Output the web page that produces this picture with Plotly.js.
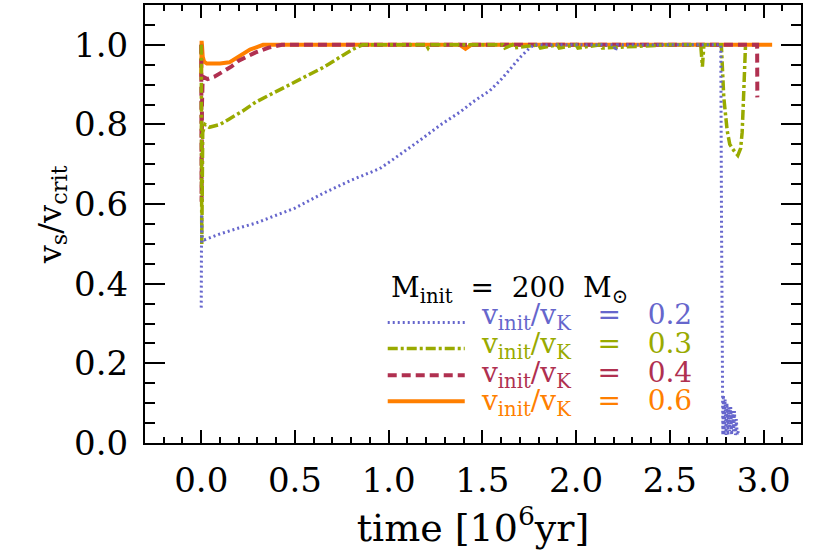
<!DOCTYPE html>
<html>
<head>
<meta charset="utf-8">
<script src="https://cdn.plot.ly/plotly-3.0.1.min.js"></script>
<style>
  body { margin: 0; background: #fff; }
  #plot { width: 830px; height: 554px; }
</style>
</head>
<body>
<div id="plot"></div>
<script>
// time in 10^6 yr, surface velocity / critical velocity

// v_init/v_K = 0.2
var t02 = [0, 0.002, 0.004, 0.016, 0.1, 0.2, 0.29, 0.4, 0.5, 0.65, 0.8, 0.952, 1.005, 1.166, 1.28, 1.38, 1.46, 1.54, 1.594, 1.65, 1.70, 1.754, 1.78, 2.0, 2.2, 2.21, 2.22, 2.5, 2.7, 2.772,
           2.776, 2.78, 2.783, 2.786, 2.79, 2.795, 2.80, 2.805, 2.81, 2.815, 2.82, 2.825, 2.83, 2.835, 2.84, 2.845, 2.85, 2.855, 2.86, 2.866];
var v02 = [0.34, 0.575, 0.52, 0.51, 0.525, 0.54, 0.552, 0.572, 0.59, 0.627, 0.66, 0.689, 0.706, 0.76, 0.80, 0.831, 0.86, 0.885, 0.91, 0.94, 0.968, 0.993, 1.0, 1.0, 1.0, 0.985, 1.0, 1.0, 1.0, 1.0,
           0.55, 0.14, 0.02, 0.12, 0.02, 0.11, 0.02, 0.10, 0.02, 0.09, 0.03, 0.09, 0.02, 0.08, 0.03, 0.08, 0.02, 0.06, 0.02, 0.03];

// v_init/v_K = 0.3
var t03 = [0, 0.003, 0.008, 0.02, 0.043, 0.1, 0.15, 0.22, 0.29, 0.38, 0.47, 0.56, 0.65, 0.73, 0.81, 0.86, 1.0, 1.2, 1.21, 1.22, 1.61, 1.62, 1.66, 1.67, 1.8, 1.81, 1.9, 1.91, 2.0, 2.01, 2.13, 2.14, 2.5, 2.665, 2.674, 2.682,
           2.775, 2.788, 2.806, 2.82, 2.841, 2.863, 2.878, 2.886, 2.892, 2.897, 2.904];
var v03 = [1.0, 0.5, 0.78, 0.80, 0.793, 0.80, 0.814, 0.833, 0.856, 0.878, 0.90, 0.921, 0.943, 0.966, 0.989, 1.0, 1.0, 1.0, 0.992, 1.0, 1.0, 0.992, 1.0, 0.992, 1.0, 0.992, 1.0, 0.992, 1.0, 0.992, 1.0, 0.992, 1.0, 1.0, 0.945, 1.0,
           1.0, 0.868, 0.785, 0.75, 0.735, 0.7225, 0.74, 0.78, 0.85, 0.95, 1.0];

// v_init/v_K = 0.4
var t04 = [0, 0.002, 0.004, 0.008, 0.02, 0.034, 0.07, 0.114, 0.16, 0.2, 0.25, 0.29, 0.36, 0.43, 1.0, 1.5, 2.0, 2.5, 2.966, 2.967];
var v04 = [1.0, 0.606, 0.85, 0.92, 0.916, 0.914, 0.92, 0.931, 0.945, 0.96, 0.972, 0.981, 0.993, 1.0, 1.0, 1.0, 1.0, 1.0, 1.0, 0.868];

// v_init/v_K = 0.6
var t06 = [0, 0.002, 0.004, 0.008, 0.015, 0.03, 0.07, 0.1, 0.15, 0.18, 0.22, 0.26, 0.29, 0.33, 0.5, 1.0, 1.38, 1.41, 1.44, 2.0, 2.5, 2.8, 3.0, 3.046];
var v06 = [0.92, 1.01, 1.0, 0.97, 0.958, 0.953, 0.952, 0.953, 0.956, 0.965, 0.977, 0.988, 0.993, 1.0, 1.0, 1.0, 1.0, 0.99, 1.0, 1.0, 1.0, 1.0, 1.0, 1.0];

var labels = ['0.2', '0.3', '0.4', '0.6'];
var colors = ['#6666cc', '#99aa00', '#b03050', '#ff7f00'];
var dashes = ['2px,3px', '10px,3px,3px,3px', '9px,5px', 'solid'];
var widths = [3, 3.5, 4, 4];
var times = [t02, t03, t04, t06];
var vals = [v02, v03, v04, v06];

var FONT = 'DejaVu Serif';

// draw order: 0.6, 0.4, 0.3, 0.2 (blue on top)
var order = [3, 2, 1, 0];
var data = order.map(function(i) {
  return {
    x: times[i], y: vals[i], type: 'scatter', mode: 'lines',
    line: {color: colors[i], width: widths[i], dash: dashes[i]},
    showlegend: false, hoverinfo: 'skip'
  };
});

// legend drawn IDL-style inside the plot
var legX0 = 0.995, legX1 = 1.406, legTx = 1.48;
var lineY = [0.3025, 0.2375, 0.17, 0.105];
var textY = [0.318, 0.245, 0.172, 0.102];
var sp = '&nbsp;&nbsp;&nbsp;';
var shapes = [], annotations = [];
annotations.push({
  x: 1.0, y: 0.385, xref: 'x', yref: 'y', xanchor: 'left', yanchor: 'middle',
  text: 'M<sub>init</sub>&nbsp;&nbsp;=&nbsp;&nbsp;200&nbsp;&nbsp;M<sub>⊙</sub>',
  showarrow: false, font: {family: FONT, size: 28, color: '#000'}
});
labels.forEach(function(lab, i) {
  shapes.push({
    type: 'line', xref: 'x', yref: 'y', x0: legX0, x1: legX1, y0: lineY[i], y1: lineY[i],
    line: {color: colors[i], width: widths[i], dash: dashes[i]}
  });
  annotations.push({
    x: legTx, y: textY[i], xref: 'x', yref: 'y', xanchor: 'left', yanchor: 'middle',
    text: 'v<sub>init</sub>/v<sub>K</sub>' + sp + '=' + sp + lab,
    showarrow: false, font: {family: FONT, size: 28, color: colors[i]}
  });
});

// y axis title, placed like the original
annotations.push({
  x: 0, y: 0.52, xref: 'paper', yref: 'paper', xanchor: 'center', yanchor: 'middle',
  xshift: -93, textangle: -90, showarrow: false,
  text: 'v<sub>s</sub>/v<sub>crit</sub>', font: {family: FONT, size: 32, color: '#000'}
});

var layout = {
  width: 830, height: 554,
  margin: {l: 145, r: 29, t: 5, b: 111},
  paper_bgcolor: '#fff', plot_bgcolor: '#fff',
  font: {family: FONT, size: 34, color: '#000'},
  showlegend: false,
  xaxis: {
    range: [-0.3, 3.2], dtick: 0.5, tick0: 0, tickformat: '.1f',
    showgrid: false, zeroline: false,
    showline: true, linecolor: '#000', linewidth: 2, mirror: 'ticks',
    ticks: 'inside', ticklen: 13, tickwidth: 2, tickcolor: '#000',
    minor: {dtick: 0.1, tick0: 0, ticks: 'inside', ticklen: 6, tickwidth: 2, tickcolor: '#000', showgrid: false},
    ticklabelstandoff: 6,
    title: {text: 'time [10<sup>6</sup>yr]', font: {family: FONT, size: 38}, standoff: 14}
  },
  yaxis: {
    range: [0, 1.1], dtick: 0.2, tick0: 0, tickformat: '.1f',
    showgrid: false, zeroline: false,
    showline: true, linecolor: '#000', linewidth: 2, mirror: 'ticks',
    ticks: 'inside', ticklen: 20, tickwidth: 2, tickcolor: '#000',
    minor: {dtick: 0.05, tick0: 0, ticks: 'inside', ticklen: 10, tickwidth: 2, tickcolor: '#000', showgrid: false},
    ticklabelstandoff: 8
  },
  shapes: shapes,
  annotations: annotations
};

Plotly.newPlot('plot', data, layout, {displayModeBar: false, staticPlot: true});
</script>
</body>
</html>
